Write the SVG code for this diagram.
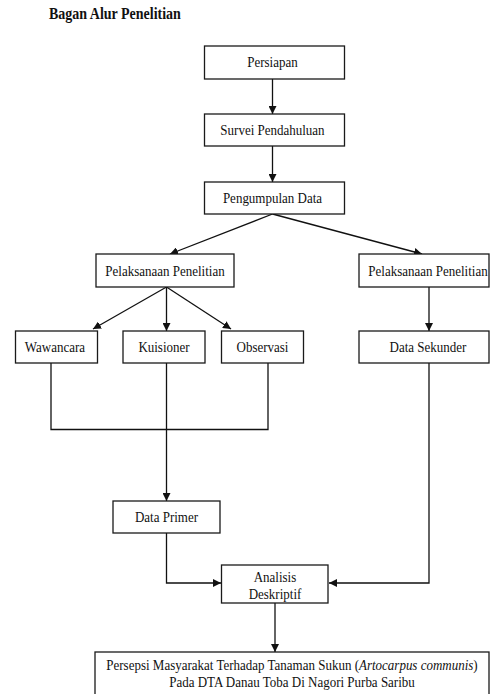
<svg xmlns="http://www.w3.org/2000/svg" width="490" height="694" viewBox="0 0 490 694">
<style>
  .box { fill: #fff; stroke: #1a1a1a; stroke-width: 1.3; }
  .lbl { font-family: "Liberation Serif", "Times New Roman", serif; font-size: 13px; fill: #111; text-anchor: middle; transform-box: fill-box; transform-origin: center; transform: scaleY(1.2); }
  .title { font-family: "Liberation Serif", "Times New Roman", serif; font-size: 14px; font-weight: bold; fill: #111; transform-box: fill-box; transform-origin: center; transform: scaleY(1.2); }
  .con { fill: none; stroke: #111; stroke-width: 1.3; }
</style>
<defs>
  <marker id="arr" viewBox="0 0 10 10" refX="10" refY="5" markerWidth="8" markerHeight="8" markerUnits="userSpaceOnUse" orient="auto">
    <path d="M0,0 L10,5 L0,10 z" fill="#111"/>
  </marker>
</defs>
<rect width="490" height="694" fill="#fff"/>
<text class="title" x="49" y="18">Bagan Alur Penelitian</text>

<g id="connectors">
  <line class="con" x1="272.5" y1="79" x2="272.5" y2="114" marker-end="url(#arr)"/>
  <line class="con" x1="272.5" y1="146" x2="272.5" y2="182" marker-end="url(#arr)"/>
  <line class="con" x1="272.5" y1="214" x2="170" y2="254" marker-end="url(#arr)"/>
  <line class="con" x1="272.5" y1="214" x2="422" y2="254" marker-end="url(#arr)"/>
  <line class="con" x1="166.5" y1="287" x2="93" y2="329" marker-end="url(#arr)"/>
  <line class="con" x1="166.5" y1="287" x2="166.5" y2="331" marker-end="url(#arr)"/>
  <line class="con" x1="166.5" y1="287" x2="231" y2="329" marker-end="url(#arr)"/>
  <line class="con" x1="429" y1="287" x2="429" y2="331" marker-end="url(#arr)"/>
  <polyline class="con" points="51,363 51,429.5 268,429.5 268,363"/>
  <line class="con" x1="166.5" y1="363" x2="166.5" y2="501" marker-end="url(#arr)"/>
  <polyline class="con" points="166.5,533 166.5,583 221,583" marker-end="url(#arr)"/>
  <polyline class="con" points="429,363 429,583 329,583" marker-end="url(#arr)"/>
  <line class="con" x1="275" y1="603" x2="275" y2="652" marker-end="url(#arr)"/>
</g>

<g id="persiapan">
  <rect class="box" x="204.5" y="46" width="140" height="33"/>
  <text class="lbl" x="272.5" y="66">Persiapan</text>
</g>
<g id="survei">
  <rect class="box" x="204.5" y="114" width="140" height="32"/>
  <text class="lbl" x="272.5" y="134">Survei Pendahuluan</text>
</g>
<g id="pengumpulan">
  <rect class="box" x="204.5" y="182" width="140" height="32"/>
  <text class="lbl" x="272.5" y="202">Pengumpulan Data</text>
</g>
<g id="pelaksanaan-1">
  <rect class="box" x="96" y="254" width="138" height="33"/>
  <text class="lbl" x="165" y="275">Pelaksanaan Penelitian</text>
</g>
<g id="pelaksanaan-2">
  <rect class="box" x="359" y="254" width="130" height="33"/>
  <text class="lbl" x="428" y="275">Pelaksanaan Penelitian</text>
</g>
<g id="wawancara">
  <rect class="box" x="15.5" y="331" width="82" height="32"/>
  <text class="lbl" x="55" y="351">Wawancara</text>
</g>
<g id="kuisioner">
  <rect class="box" x="123" y="331" width="82" height="32"/>
  <text class="lbl" x="164" y="351">Kuisioner</text>
</g>
<g id="observasi">
  <rect class="box" x="221.5" y="331" width="82" height="32"/>
  <text class="lbl" x="262.5" y="351">Observasi</text>
</g>
<g id="data-sekunder">
  <rect class="box" x="359" y="331" width="130" height="32"/>
  <text class="lbl" x="428" y="351">Data Sekunder</text>
</g>
<g id="data-primer">
  <rect class="box" x="113" y="501" width="107" height="32"/>
  <text class="lbl" x="166.5" y="521">Data Primer</text>
</g>
<g id="analisis">
  <rect class="box" x="221.5" y="565" width="106.5" height="38"/>
  <text class="lbl" x="275" y="581">Analisis</text>
  <text class="lbl" x="275" y="598.5">Deskriptif</text>
</g>
<g id="persepsi">
  <rect class="box" x="95" y="652" width="394" height="50"/>
  <text class="lbl" x="292" y="669">Persepsi Masyarakat Terhadap Tanaman Sukun (<tspan font-style="italic">Artocarpus communis</tspan>)</text>
  <text class="lbl" x="292" y="686">Pada DTA Danau Toba Di Nagori Purba Saribu</text>
</g>
</svg>
